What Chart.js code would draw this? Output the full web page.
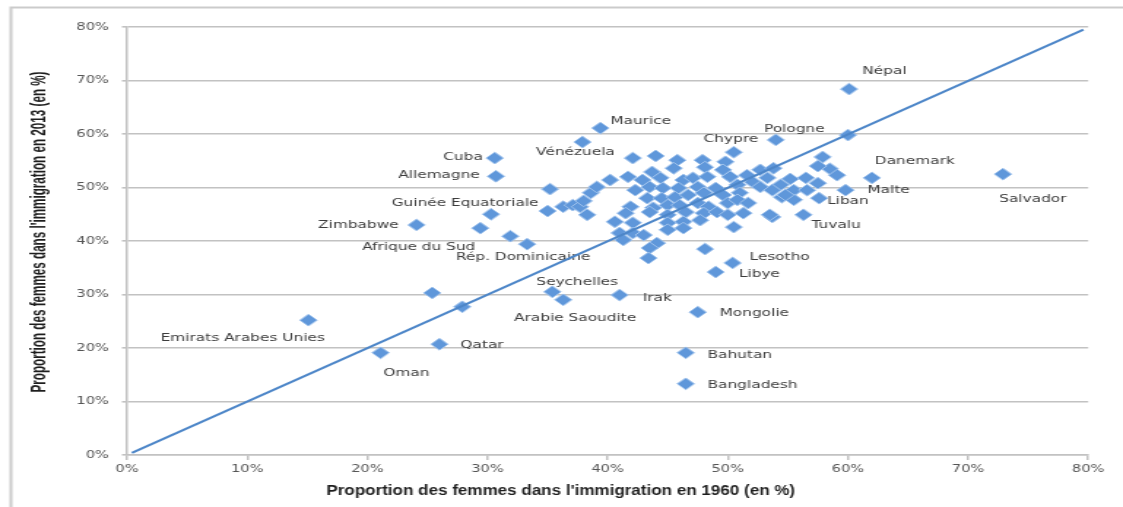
<!DOCTYPE html>
<html><head><meta charset="utf-8">
<script src="https://cdn.jsdelivr.net/npm/chart.js@4.4.1/dist/chart.umd.min.js"></script>
<style>
html,body{margin:0;padding:0;background:#fff;overflow:hidden;width:1123px;height:507px;}
#wrap{position:absolute;left:0;top:0;width:769px;height:507px;transform:scaleX(1.4603);transform-origin:0 0;}
</style></head><body>
<div id="wrap"><canvas id="c"></canvas></div>
<script>
// ---------- data ----------
const tickLabels = ['0%','10%','20%','30%','40%','50%','60%','70%','80%'];
const xTitle = "Proportion des femmes dans l'immigration en 1960 (en %)";
const yTitle = "Proportion des femmes dans l'immigration en 2013 (en %)";

const countryNames = ['Népal','Pologne','Maurice','Vénézuela','Chypre','Cuba','Allemagne','Danemark','Salvador','Malte','Liban','Tuvalu','Guinée Equatoriale','Zimbabwe','Afrique du Sud','Rép. Dominicaine','Lesotho','Libye','Seychelles','Arabie Saoudite','Irak','Mongolie','Qatar','Oman','Emirats Arabes Unies','Bahutan','Bangladesh'];
const countryX1960 = [60.1,54.0,39.4,37.9,50.5,30.6,30.7,62.0,72.9,59.8,57.6,56.3,30.3,24.1,29.4,33.3,50.4,49.0,35.4,36.3,41.0,47.5,26.0,21.1,15.1,46.5,46.5];
const countryY2013 = [68.4,58.9,61.1,58.5,56.6,55.5,52.1,51.8,52.5,49.5,48.0,44.9,45.0,43.0,42.4,39.4,35.9,34.2,30.5,29.0,29.9,26.7,20.7,19.1,25.2,19.1,13.3];

const otherX1960 = [60.0,25.4,27.9,31.9,35.2,35.0,36.3,37.1,37.7,38.3,38.6,39.1,38.0,57.9,58.5,59.1,57.5,55.2,56.5,57.5,55.5,56.6,54.5,55.5,53.7,
42.1,44.0,45.8,47.9,49.8,45.5,48.1,49.6,43.7,41.7,40.2,42.9,44.4,46.3,47.1,48.3,50.2,51.6,52.7,53.8,
42.3,43.5,44.6,45.9,47.5,49.0,50.8,52.1,53.3,54.4,43.3,44.5,45.6,46.7,48.0,49.6,51.0,52.7,53.7,54.8,
43.8,45.0,46.0,47.5,48.4,50.0,50.8,51.7,41.9,41.5,43.5,45.0,46.5,48.0,49.1,50.0,51.3,
40.6,42.1,45.0,46.3,47.7,50.5,53.5,41.0,42.1,43.0,45.0,41.3,44.1,48.1,43.5,43.4,46.3];
const otherY2013 = [59.8,30.3,27.7,40.9,49.7,45.6,46.4,46.7,46.4,44.9,49.0,50.1,47.5,55.7,53.5,52.3,54.0,51.6,51.8,50.8,49.5,49.5,48.2,47.7,44.5,
55.5,55.9,55.1,55.1,54.8,53.6,53.8,53.3,52.9,52.0,51.4,51.4,51.8,51.4,51.8,52.0,52.0,52.3,53.3,53.6,
49.5,50.1,49.9,49.9,50.1,49.9,50.5,51.0,51.8,50.5,48.0,48.0,48.2,48.6,49.0,48.6,49.0,50.1,49.5,48.6,
46.2,46.7,46.7,47.1,46.4,47.1,47.7,47.1,46.4,45.2,45.4,44.9,45.4,45.2,45.4,44.9,45.2,
43.6,43.4,43.4,43.6,43.9,42.6,44.9,41.5,41.5,41.1,42.1,40.2,39.6,38.5,38.7,36.8,42.4];

const diagonalX = [0.4, 79.6];
const diagonalY = [0.4, 79.5];

// ---------- label placement (align, dx, dy in chart px) ----------
const labelPlacement = {
  'Népal':['left',9,-18], 'Pologne':['center',12.7,-11], 'Maurice':['left',6.8,-7],
  'Vénézuela':['center',-4.8,10], 'Chypre':['center',-2,-13], 'Cuba':['right',-8.2,-1],
  'Allemagne':['right',-11,-1], 'Danemark':['left',2,-17], 'Salvador':['center',20.5,25],
  'Malte':['left',15,0], 'Liban':['left',5.5,3], 'Tuvalu':['left',5.5,10],
  'Guinée Equatoriale':['center',-17.8,-11], 'Zimbabwe':['right',-12.3,0],
  'Afrique du Sud':['right',-3.4,19], 'Rép. Dominicaine':['center',-2.7,13],
  'Lesotho':['left',11.6,-6], 'Libye':['left',15.8,2], 'Seychelles':['center',17,-10],
  'Arabie Saoudite':['center',8.2,18], 'Irak':['left',15.8,3], 'Mongolie':['left',15,1],
  'Qatar':['left',14.4,1], 'Oman':['center',17.8,20], 'Emirats Arabes Unies':['center',-45,18],
  'Bahutan':['left',15,2], 'Bangladesh':['left',15,1]
};

const scatterPoints = countryX1960.map((x,i)=>({x:x,y:countryY2013[i]}))
  .concat(otherX1960.map((x,i)=>({x:x,y:otherY2013[i]})));
const diagonalPoints = diagonalX.map((x,i)=>({x:x,y:diagonalY[i]}));

const tickFont = {family:'"DejaVu Sans", Verdana, sans-serif', size:10};
const gridColor = '#c2c2c2';

function drawCondensed(ctx, text, cx, cy, targetLen, rotate){
  ctx.save();
  ctx.font = 'bold 14px "Liberation Sans", Arial, sans-serif';
  const w = ctx.measureText(text).width;
  ctx.translate(cx, cy);
  if (rotate) ctx.rotate(-Math.PI/2);
  ctx.scale(targetLen / w, 1);
  ctx.fillStyle = '#1e1e1e';
  ctx.textAlign = 'center';
  ctx.textBaseline = 'middle';
  ctx.fillText(text, 0, 0);
  ctx.restore();
}

const annot = {
  id:'annot',
  beforeDraw(chart){
    const ctx = chart.ctx;
    ctx.save();
    ctx.strokeStyle = '#cbcbcb'; ctx.lineWidth = 2;
    ctx.strokeRect(7.5, 7.5, 3000, 3000);
    ctx.restore();
  },
  beforeDatasetsDraw(chart){
    const ctx = chart.ctx, xs = chart.scales.x, ys = chart.scales.y;
    ctx.save();
    ctx.font = '10.5px "DejaVu Sans", Verdana, sans-serif';
    ctx.fillStyle = '#3c3c3c';
    ctx.textBaseline = 'middle';
    countryNames.forEach((n,i)=>{
      const p = labelPlacement[n];
      const px = xs.getPixelForValue(countryX1960[i]);
      const py = ys.getPixelForValue(countryY2013[i]);
      ctx.textAlign = p[0];
      ctx.fillText(n, px + p[1], py + p[2]);
    });
    ctx.restore();
  },
  afterDraw(chart){
    const ctx = chart.ctx;
    drawCondensed(ctx, xTitle, 384, 491, 321, false);
    drawCondensed(ctx, yTitle, 27.5, 232, 321, true);
  }
};

new Chart(document.getElementById('c'), {
  type:'scatter',
  data:{datasets:[
    {type:'line', data:diagonalPoints, borderColor:'#4d86c8', borderWidth:2, pointRadius:0, fill:false, tension:0},
    {type:'scatter', data:scatterPoints, pointStyle:'rectRot', pointRadius:5.9, pointHoverRadius:5.9,
     backgroundColor:'#5f97da', borderColor:'#9fc2ec', borderWidth:1}
  ]},
  options:{
    responsive:true, maintainAspectRatio:false, animation:false,
    layout:{padding:{top:27,right:23.8,left:0,bottom:0}},
    plugins:{legend:{display:false}, tooltip:{enabled:false}},
    scales:{
      x:{type:'linear', min:0, max:80,
        ticks:{stepSize:10, font:tickFont, color:'#555555', padding:3, maxRotation:0,
          callback:(v,i)=>tickLabels[i]},
        grid:{drawOnChartArea:false, drawTicks:true, tickLength:5, color:gridColor, lineWidth:1.5},
        border:{display:true, color:gridColor, width:1.5},
        afterFit(s){ s.height = 52; }
      },
      y:{type:'linear', min:0, max:80,
        ticks:{stepSize:10, font:tickFont, color:'#555555', padding:9,
          callback:(v,i)=>tickLabels[i]},
        grid:{drawOnChartArea:true, drawTicks:true, tickLength:3.5, color:gridColor, lineWidth:1.6},
        border:{display:true, color:gridColor, width:1.5},
        afterFit(s){ s.width = 87; }
      }
    }
  },
  plugins:[annot]
});
</script>
</body></html>
